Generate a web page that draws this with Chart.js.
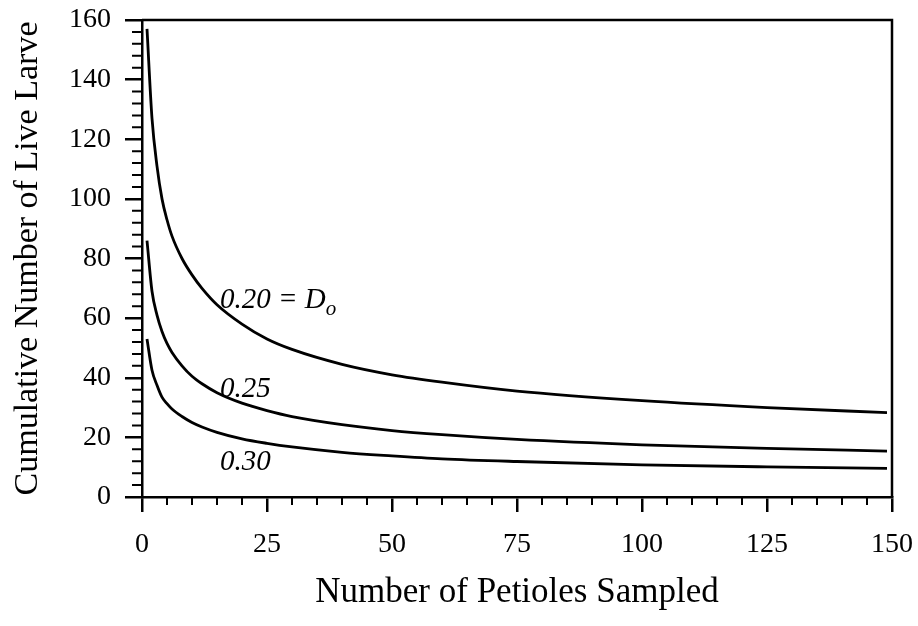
<!DOCTYPE html>
<html>
<head>
<meta charset="utf-8">
<script src="https://cdn.jsdelivr.net/npm/chart.js@4/dist/chart.umd.min.js"></script>
<style>
  html, body { margin: 0; padding: 0; background: #fff; }
  #wrap { width: 918px; height: 626px; }
</style>
</head>
<body>
<div id="wrap"><canvas id="myChart" width="918" height="626"></canvas></div>
<script>
// petioles sampled (x) and cumulative larvae for each D_o
const petioles = [1, 2, 3, 4, 5, 6, 8, 10, 12, 15, 20, 25, 30, 40, 50, 60, 75, 100, 125, 149]
const d020 = [157, 127, 111, 100, 93, 87.5, 80, 74.5, 70, 64.5, 58, 53, 49.5, 44.5, 41, 38.5, 35.5, 32.3, 30, 28.3]
const d025 = [86, 69, 61, 55.5, 51.5, 48.5, 44, 40.5, 38, 35, 31.5, 29, 27, 24.3, 22.3, 20.9, 19.3, 17.5, 16.3, 15.4]
const d030 = [53, 42.5, 37.5, 33.5, 31.3, 29.5, 27, 25, 23.5, 21.7, 19.5, 18, 16.8, 15, 13.8, 12.8, 11.9, 10.8, 10.1, 9.6]

const curveLabels = ['0.20 = ', '0.25', '0.30']
const labelX = [15.6, 15.6, 15.6]
const labelY = [63.4, 33.6, 9.1]

const serif = '"Liberation Serif", "DejaVu Serif", serif'

function pts(ys) {
    return petioles.map((x, i) => ({ x: x, y: ys[i] }))
}

function curve(ys) {
    return {
        data: pts(ys),
        borderColor: '#000',
        borderWidth: 2.8,
        pointRadius: 0,
        fill: false,
        cubicInterpolationMode: 'monotone'
    }
}

// minor ticks, frame and the curve labels
const extras = {
    id: 'extras',
    afterDraw(chart) {
        const ctx = chart.ctx
        const a = chart.chartArea
        const xs = chart.scales.x
        const ys = chart.scales.y
        ctx.save()
        ctx.strokeStyle = '#000'
        ctx.lineWidth = 2.5
        ctx.beginPath()
        ctx.moveTo(a.left, a.top)
        ctx.lineTo(a.right, a.top)
        ctx.lineTo(a.right, a.bottom)
        ctx.stroke()

        ctx.lineWidth = 2
        ctx.beginPath()
        for (let v = 5; v < 150; v += 5) {
            if (v % 25 === 0) continue
            const px = xs.getPixelForValue(v)
            ctx.moveTo(px, a.bottom)
            ctx.lineTo(px, a.bottom + 8)
        }
        for (let v = 4; v < 160; v += 4) {
            if (v % 20 === 0) continue
            const py = ys.getPixelForValue(v)
            ctx.moveTo(a.left, py)
            ctx.lineTo(a.left - 10, py)
        }
        ctx.stroke()

        ctx.fillStyle = '#000'
        ctx.textBaseline = 'alphabetic'
        ctx.textAlign = 'left'
        ctx.font = 'italic 29px ' + serif
        curveLabels.forEach((t, i) => {
            const px = xs.getPixelForValue(labelX[i])
            const py = ys.getPixelForValue(labelY[i])
            ctx.fillText(t, px, py)
            if (i === 0) {
                const w = ctx.measureText(t).width
                ctx.fillText('D', px + w, py)
                const wd = ctx.measureText('D').width
                ctx.font = 'italic 21px ' + serif
                ctx.fillText('o', px + w + wd, py + 7)
                ctx.font = 'italic 29px ' + serif
            }
        })
        ctx.restore()
    }
}

const ctx = document.getElementById('myChart').getContext('2d')
const myChart = new Chart(ctx, {
    type: 'line',
    data: {
        datasets: [curve(d020), curve(d025), curve(d030)]
    },
    options: {
        responsive: false,
        animation: false,
        events: [],
        layout: { padding: { left: 0, right: 26, top: 20, bottom: 0 } },
        plugins: {
            legend: { display: false },
            tooltip: { enabled: false }
        },
        scales: {
            x: {
                type: 'linear',
                min: 0,
                max: 150,
                afterFit(scale) {
                    scale.height = 129
                    scale.paddingLeft = 0
                    scale.paddingRight = 0
                },
                ticks: {
                    stepSize: 25,
                    color: '#000',
                    padding: 16,
                    maxRotation: 0,
                    font: { family: serif, size: 28 }
                },
                grid: {
                    drawOnChartArea: false,
                    drawTicks: true,
                    tickLength: 15,
                    color: '#000',
                    lineWidth: 2.5
                },
                border: { display: true, color: '#000', width: 2.5 },
                title: {
                    display: true,
                    text: 'Number of Petioles Sampled',
                    color: '#000',
                    font: { family: serif, size: 35 },
                    padding: { top: 12, bottom: 12 }
                }
            },
            y: {
                min: 0,
                max: 160,
                afterFit(scale) {
                    scale.width = 142
                    scale.paddingTop = 0
                    scale.paddingBottom = 0
                },
                ticks: {
                    stepSize: 20,
                    color: '#000',
                    padding: 14,
                    font: { family: serif, size: 28 }
                },
                grid: {
                    drawOnChartArea: false,
                    drawTicks: true,
                    tickLength: 17,
                    color: '#000',
                    lineWidth: 2.5
                },
                border: { display: true, color: '#000', width: 2.5 },
                title: {
                    display: true,
                    text: 'Cumulative Number of Live Larve',
                    color: '#000',
                    font: { family: serif, size: 34 },
                    padding: { top: 8, bottom: 8 }
                }
            }
        }
    },
    plugins: [extras]
})
</script>
</body>
</html>
